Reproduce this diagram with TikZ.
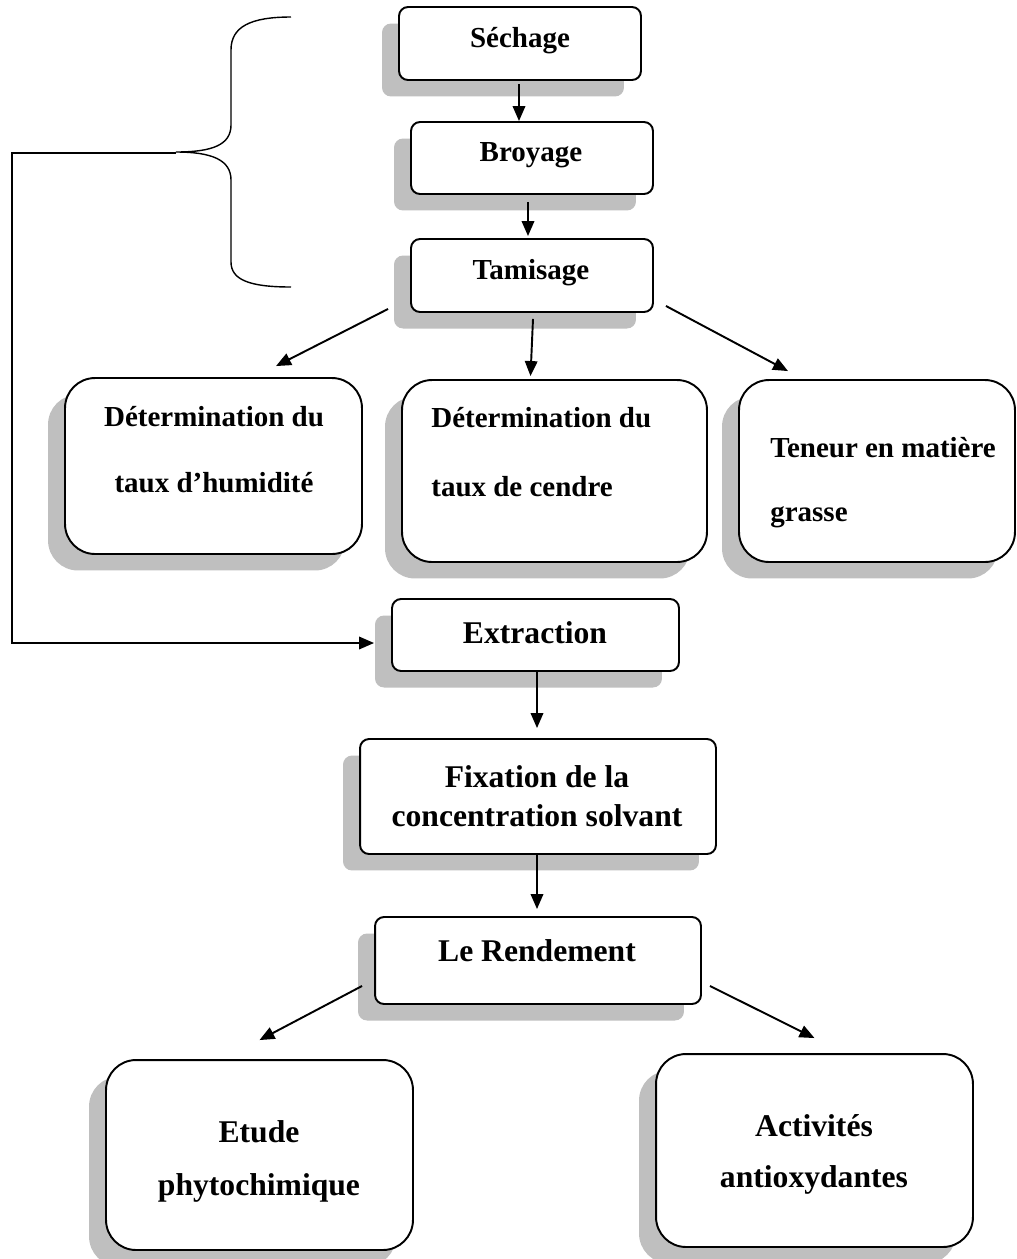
\documentclass[tikz,border=0pt]{standalone}
\usepackage{fontspec}
\setmainfont{Liberation Serif}
\usetikzlibrary{arrows.meta,shadows}

\begin{document}
\begin{tikzpicture}[x=0.02cm,y=-0.02cm,
    box/.style={draw,line width=1.1pt,fill=white,rounded corners=0.18cm,inner sep=0pt,
      drop shadow={shadow xshift=-0.34cm,shadow yshift=-0.33cm,fill=black!25,opacity=1}},
    bigbox/.style={box,rounded corners=0.6cm},
    lbl/.style={font=\fontsize{16.5}{18}\selectfont\bfseries,inner sep=0pt},
    biglbl/.style={font=\fontsize{18}{20}\selectfont\bfseries,inner sep=0pt},
    arr/.style={line width=1.1pt,-{Triangle[length=0.3cm,width=0.25cm]}}]
    \useasboundingbox (0,0) rectangle (1017,1259);

    % preparation of the plant material
    \node[box,minimum width=4.84cm,minimum height=1.46cm] (sech) at (520,43.5) {};
    \node[box,minimum width=4.84cm,minimum height=1.44cm] (broy) at (532,158) {};
    \node[box,minimum width=4.84cm,minimum height=1.46cm] (tami) at (532,275.5) {};
    \node[lbl] (sechtxt) at (520,41) {Séchage};
    \node[lbl] (broytxt) at (531,155) {Broyage};
    \node[lbl] (tamitxt) at (531,273) {Tamisage};

    % analyses
    \node[bigbox,minimum width=5.94cm,minimum height=3.52cm] (hum) at (213.5,466) {};
    \node[bigbox,minimum width=6.10cm,minimum height=3.64cm] (cend) at (554.5,471) {};
    \node[bigbox,minimum width=5.52cm,minimum height=3.64cm] (ten) at (877,471) {};
    \node[lbl] (humtxta) at (214,417) {Détermination du};
    \node[lbl] (humtxtb) at (214,483) {taux d’humidité};
    \node[lbl,anchor=west] (cendtxta) at (431,418) {Détermination du};
    \node[lbl,anchor=west] (cendtxtb) at (431,487) {taux de cendre};
    \node[lbl,anchor=west] (tentxta) at (770,448) {Teneur en matière};
    \node[lbl,anchor=west] (tentxtb) at (770,517) {grasse};

    % extraction chain
    \node[box,minimum width=5.74cm,minimum height=1.44cm] (extr) at (535.5,635) {};
    \node[box,minimum width=7.12cm,minimum height=2.30cm] (fix) at (538,796.5) {};
    \node[box,minimum width=6.52cm,minimum height=1.74cm] (rend) at (538,960.5) {};
    \node[biglbl] (extrtxt) at (535,633) {Extraction};
    \node[biglbl] (fixtxta) at (537,777) {Fixation de la};
    \node[biglbl] (fixtxtb) at (537,816) {concentration solvant};
    \node[biglbl] (rendtxt) at (537,951) {Le Rendement};

    % studies
    \node[bigbox,minimum width=6.14cm,minimum height=3.80cm] (etu) at (259.5,1155) {};
    \node[bigbox,minimum width=6.34cm,minimum height=3.86cm] (act) at (814.5,1150.5) {};
    \node[biglbl] (etutxta) at (259,1132) {Etude};
    \node[biglbl] (etutxtb) at (259,1188) {phytochimique};
    \node[biglbl] (acttxta) at (814,1126) {Activités};
    \node[biglbl] (acttxtb) at (814,1180) {antioxydantes};

    % brace
    \draw[line width=0.8pt] (291,17) .. controls (250,17) and (231,27) .. (231,50) -- (231,125)
      .. controls (231,145) and (212,152) .. (176,152)
      .. controls (212,152) and (231,160) .. (231,180) -- (231,262)
      .. controls (231,280) and (250,287) .. (291,287);
    \coordinate (bracetip) at (176,153);
    \coordinate (corner) at (12,153);

    % arrows
    \draw[arr] ([xshift=-0.02cm,yshift=-0.06cm]sech.south) -- ([xshift=-0.02cm]sech.south |- broy.north);
    \draw[arr] ([xshift=-0.08cm,yshift=-0.14cm]broy.south) -- ([xshift=-0.08cm,yshift=0.04cm]broy.south |- tami.north);
    \draw[arr] ([xshift=-0.44cm,yshift=0.08cm]tami.south west) -- ([xshift=1.25cm,yshift=0.22cm]hum.north);
    \draw[arr] ([xshift=0.02cm,yshift=-0.12cm]tami.south) -- ([xshift=-0.48cm,yshift=0.06cm]cend.north);
    \draw[arr] ([xshift=0.24cm,yshift=0.14cm]tami.south east) -- ([xshift=-1.78cm,yshift=0.16cm]ten.north);
    \draw[arr] (bracetip) -- (corner) |- ([xshift=-0.34cm,yshift=-0.16cm]extr.west);
    \draw[arr] ([xshift=0.03cm]extr.south) -- ([xshift=0.03cm,yshift=0.2cm]extr.south |- fix.north);
    \draw[arr] ([xshift=-0.02cm]fix.south) -- ([xshift=-0.02cm,yshift=0.14cm]fix.south |- rend.north);
    \draw[arr] ([xshift=-0.24cm,yshift=0.38cm]rend.south west) -- ([yshift=0.38cm]etu.north);
    \draw[arr] ([xshift=0.16cm,yshift=0.38cm]rend.south east) -- ([yshift=0.3cm]act.north);
\end{tikzpicture}
\end{document}
